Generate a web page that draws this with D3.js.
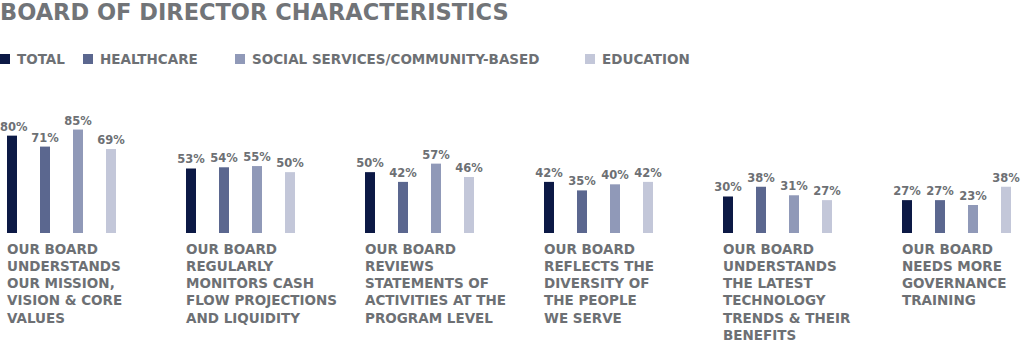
<!DOCTYPE html>
<html><head><meta charset="utf-8">
<script src="https://cdn.jsdelivr.net/npm/d3@7"></script>
<style>body{margin:0;background:#fff;}svg{display:block;}</style>
</head><body>
<svg id="chart" width="1024" height="346"></svg>
<script>
const title = "BOARD OF DIRECTOR CHARACTERISTICS";
const series = ["TOTAL", "HEALTHCARE", "SOCIAL SERVICES/COMMUNITY-BASED", "EDUCATION"];
const colors = ["#0c1945", "#5b678f", "#9099b8", "#c3c7d9"];
const categories = ["mission", "cash", "statements", "diversity", "technology", "training"];
const categoryLabels = [
  ["OUR BOARD", "UNDERSTANDS", "OUR MISSION,", "VISION & CORE", "VALUES"],
  ["OUR BOARD", "REGULARLY", "MONITORS CASH", "FLOW PROJECTIONS", "AND LIQUIDITY"],
  ["OUR BOARD", "REVIEWS", "STATEMENTS OF", "ACTIVITIES AT THE", "PROGRAM LEVEL"],
  ["OUR BOARD", "REFLECTS THE", "DIVERSITY OF", "THE PEOPLE", "WE SERVE"],
  ["OUR BOARD", "UNDERSTANDS", "THE LATEST", "TECHNOLOGY", "TRENDS & THEIR", "BENEFITS"],
  ["OUR BOARD", "NEEDS MORE", "GOVERNANCE", "TRAINING"]
];
const totalValues      = [80, 53, 50, 42, 30, 27];
const healthcareValues = [71, 54, 42, 35, 38, 27];
const socialValues     = [85, 55, 57, 40, 31, 23];
const educationValues  = [69, 50, 46, 42, 27, 38];
const seriesValues = [totalValues, healthcareValues, socialValues, educationValues];
const legendX = [0, 83, 235, 585];

const textColor = "#6d7074";
const font = "'DejaVu Sans', sans-serif";
const svg = d3.select("#chart");

svg.append("text").attr("x", 0).attr("y", 20)
  .attr("font-family", font).attr("font-weight", "bold").attr("font-size", 22.5)
  .attr("fill", "#717478").text(title);

const legend = svg.append("g");
series.forEach((s, i) => {
  const g = legend.append("g").attr("transform", `translate(${legendX[i]},54)`);
  g.append("rect").attr("width", 10).attr("height", 10).attr("fill", colors[i]);
  g.append("text").attr("x", 17).attr("y", 10)
    .attr("font-family", font).attr("font-weight", "bold").attr("font-size", 13.5)
    .attr("fill", textColor).text(s);
});

const x0 = d3.scaleBand().domain(categories).range([7, 7 + 179 * 6]).paddingInner(0).paddingOuter(0);
const x1 = d3.scaleBand().domain(series).range([0, 109]).paddingInner(23 / 33).paddingOuter(0);
const y = d3.scaleLinear().domain([0, 100]).range([233, 111.3]);

const groups = svg.append("g").selectAll("g").data(categories).join("g")
  .attr("transform", d => `translate(${x0(d)},0)`);

groups.each(function(cat, ci) {
  const g = d3.select(this);
  const data = series.map((s, si) => ({s, si, v: seriesValues[si][ci]}));
  g.selectAll("rect").data(data).join("rect")
    .attr("x", d => x1(d.s)).attr("width", x1.bandwidth())
    .attr("y", d => y(d.v)).attr("height", d => y(0) - y(d.v))
    .attr("fill", d => colors[d.si]);
  g.selectAll("text.val").data(data).join("text").attr("class", "val")
    .attr("x", d => x1(d.s) + x1.bandwidth() / 2).attr("y", d => y(d.v) - 5)
    .attr("text-anchor", "middle")
    .attr("font-family", font).attr("font-weight", "bold").attr("font-size", 11.5)
    .attr("fill", textColor).text(d => d.v + "%")
    .each(function() {
      // keep the label inside the left edge of the picture
      const w = this.getComputedTextLength();
      const cx = +this.getAttribute("x") + x0(cat);
      if (cx - w / 2 < 0) this.setAttribute("x", w / 2 - x0(cat));
    });
  g.selectAll("text.lab").data(categoryLabels[ci]).join("text").attr("class", "lab")
    .attr("x", 0).attr("y", (d, i) => 253.5 + i * 17.3)
    .attr("font-family", font).attr("font-weight", "bold").attr("font-size", 13.5)
    .attr("fill", textColor).text(d => d);
});
</script>
</body></html>
